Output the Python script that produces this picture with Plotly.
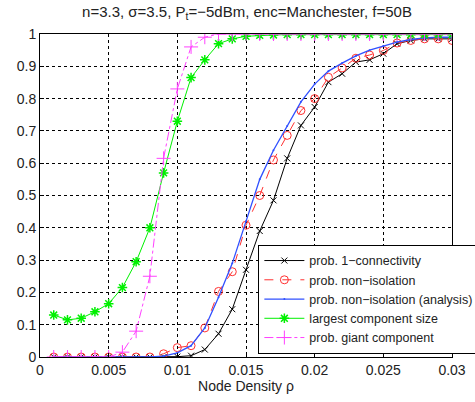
import plotly.graph_objects as go

rho = [0.001, 0.002, 0.003, 0.004, 0.005, 0.006, 0.007, 0.008, 0.009, 0.010,
       0.011, 0.012, 0.013, 0.014, 0.015, 0.016, 0.017, 0.018, 0.019, 0.020,
       0.021, 0.022, 0.023, 0.024, 0.025, 0.026, 0.027, 0.028, 0.029, 0.030]

p_1conn = [0, 0, 0, 0, 0, 0, 0, 0, 0, 0.001,
           0.004, 0.023, 0.072, 0.148, 0.27, 0.39, 0.485, 0.615, 0.717, 0.774,
           0.851, 0.877, 0.913, 0.92, 0.939, 0.97, 0.98, 0.985, 0.985, 0.985]

p_noniso = [0, 0, 0, 0, 0, 0, 0, 0, 0.01, 0.029,
            0.035, 0.09, 0.203, 0.264, 0.408, 0.50, 0.61, 0.686, 0.763, 0.80,
            0.866, 0.895, 0.925, 0.935, 0.949, 0.972, 0.98, 0.985, 0.985, 0.98]

p_noniso_an = [0, 0, 0, 0, 0, 0, 0, 0, 0.003, 0.013,
               0.035, 0.09, 0.185, 0.29, 0.42, 0.55, 0.64, 0.715, 0.79, 0.845,
               0.885, 0.91, 0.932, 0.95, 0.963, 0.975, 0.983, 0.988, 0.99, 0.99]

largest_comp = [0.13, 0.115, 0.12, 0.14, 0.165, 0.215, 0.295, 0.40, 0.57, 0.73,
                0.865, 0.92, 0.97, 0.985, 0.993, 0.996, 0.997, 0.998, 0.998, 0.998,
                0.998, 0.998, 0.998, 0.998, 0.998, 0.998, 0.998, 0.998, 0.998, 0.998]

p_giant = [0, 0, 0, 0, 0, 0.015, 0.08, 0.25, 0.615, 0.83,
           0.96, 0.99, 1, 1, 1, 1, 1, 1, 1, 1,
           1, 1, 1, 1, 1, 1, 1, 1, 1, 1]

x_ticks = [0, 0.005, 0.01, 0.015, 0.02, 0.025, 0.03]
x_tick_labels = ["0", "0.005", "0.01", "0.015", "0.02", "0.025", "0.03"]
y_ticks = [0, 0.1, 0.2, 0.3, 0.4, 0.5, 0.6, 0.7, 0.8, 0.9, 1]
y_tick_labels = ["0", "0.1", "0.2", "0.3", "0.4", "0.5", "0.6", "0.7", "0.8", "0.9", "1"]

FONT = "Liberation Sans, Arial, Helvetica"

fig = go.Figure()
fig.add_trace(go.Scatter(x=rho, y=p_1conn, name="prob. 1\u2212connectivity", mode="lines+markers",
                         line=dict(color="black", width=1),
                         marker=dict(symbol="x-thin-open", size=6, color="black",
                                     line=dict(color="black", width=1))))
fig.add_trace(go.Scatter(x=rho, y=p_noniso, name="prob. non\u2212isolation", mode="lines+markers",
                         line=dict(color="#ff3030", width=1, dash="dash"),
                         marker=dict(symbol="circle-open", size=8, color="#ff3030",
                                     line=dict(color="#ff3030", width=1))))
fig.add_trace(go.Scatter(x=rho, y=p_noniso_an, name="prob. non\u2212isolation (analysis)", mode="lines+markers",
                         line=dict(color="#3050ff", width=1.3),
                         marker=dict(symbol="circle", size=2, color="#3050ff")))
fig.add_trace(go.Scatter(x=rho, y=largest_comp, name="largest component size", mode="lines+markers",
                         line=dict(color="#00f000", width=1),
                         marker=dict(symbol="asterisk-open", size=8, color="#00f000",
                                     line=dict(color="#00f000", width=1.5))))
fig.add_trace(go.Scatter(x=rho, y=p_giant, name="prob. giant component", mode="lines+markers",
                         line=dict(color="#ff40ff", width=1, dash="dashdot"),
                         marker=dict(symbol="cross-thin-open", size=10, color="#ff40ff",
                                     line=dict(color="#ff40ff", width=1))))

axis_common = dict(showline=True, linecolor="black", linewidth=1, mirror=True,
                   showgrid=True, gridcolor="black", gridwidth=1, griddash="dot",
                   zeroline=False, ticks="inside", ticklen=4, tickcolor="black",
                   automargin=False,
                   tickfont=dict(family=FONT, size=14, color="#222"))

fig.update_xaxes(range=[0, 0.03], tickvals=x_ticks, ticktext=x_tick_labels,
                 title=dict(text="Node Density \u03c1", font=dict(family=FONT, size=14, color="#222"),
                            standoff=4),
                 **axis_common)
fig.update_yaxes(range=[0, 1], tickvals=y_ticks, ticktext=y_tick_labels, **axis_common)

fig.update_layout(
    width=475, height=402,
    margin=dict(l=40, r=23, t=34, b=45, autoexpand=False),
    paper_bgcolor="white", plot_bgcolor="white",
    title=dict(text="n=3.3, \u03c3=3.5, P<sub>t</sub>=\u22125dBm, enc=Manchester, f=50B",
               x=0.52, xanchor="center", y=0.985, yanchor="top",
               font=dict(family=FONT, size=15, color="#222")),
    legend=dict(x=0.53, y=0.347, xanchor="left", yanchor="top",
                bgcolor="white", bordercolor="black", borderwidth=1,
                font=dict(family=FONT, size=12.5, color="#222"),
                tracegroupgap=0, itemwidth=40),
    showlegend=True,
)

fig.write_html("out.html", config={"displayModeBar": False},
               post_script="document.body.style.margin='0';")
